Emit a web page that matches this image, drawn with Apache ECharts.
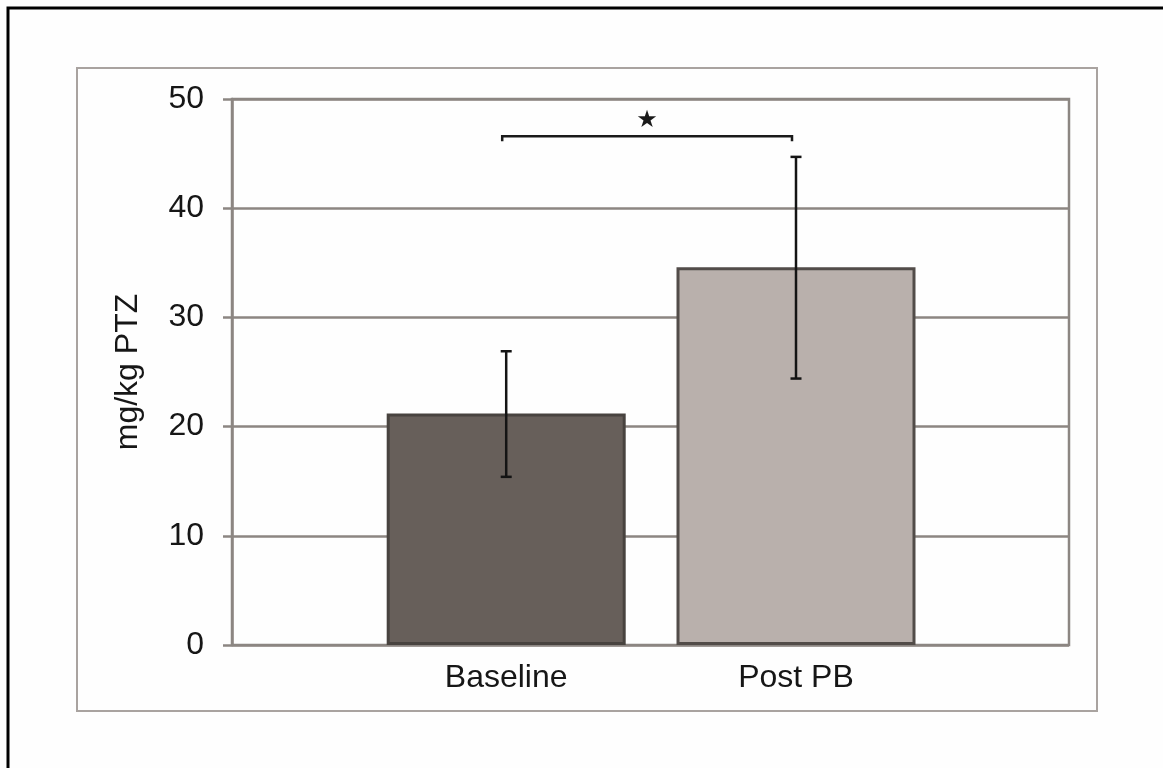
<!DOCTYPE html>
<html>
<head>
<meta charset="utf-8">
<script src="https://cdn.jsdelivr.net/npm/echarts@6/dist/echarts.min.js"></script>
<style>
html,body{margin:0;padding:0;background:#fefefe;}
#chart{width:1163px;height:768px;}
</style>
</head>
<body>
<div id="chart"></div>
<script>
// ---- data ----
const categories = ['Baseline', 'Post PB'];
const means = [21.2, 34.6];
const errLow = [15.4, 24.4];
const errHigh = [26.9, 44.7];
const yMin = 0, yMax = 50, yInterval = 10;
const yTitle = 'mg/kg PTZ';
const sigPair = [0, 1];
const sigLevel = 46.6;
const sigMark = '★';
const barColors = ['#675f5a', '#b9b0ac'];
const barBorders = ['#48433f', '#524c49'];

const chart = echarts.init(document.getElementById('chart'), null, {renderer: 'canvas'});
const font = 'Liberation Sans, Arial, sans-serif';
const gridColor = '#8c8682';

const option = {
  backgroundColor: '#fefefe',
  animation: false,
  graphic: [
    {type: 'rect', shape: {x: 8, y: 8, width: 2000, height: 2000},
     style: {fill: 'none', stroke: '#000', lineWidth: 3}, z: 0},
    {type: 'rect', shape: {x: 77, y: 68, width: 1020, height: 643},
     style: {fill: 'none', stroke: '#a9a3a0', lineWidth: 2}, z: 0}
  ],
  grid: [
    {left: 232, right: 94, top: 99, bottom: 123, show: true,
     borderColor: gridColor, borderWidth: 2.5, backgroundColor: 'transparent'},
    {left: 361.3, width: 579.6, top: 99, bottom: 123}
  ],
  xAxis: [
    {gridIndex: 0, type: 'value', min: 0, max: 1, show: false},
    {gridIndex: 1, type: 'category', data: categories,
     axisLine: {show: false}, axisTick: {show: false}, splitLine: {show: false},
     axisLabel: {fontSize: 32, fontFamily: font, color: '#161616', margin: 17}}
  ],
  yAxis: [
    {gridIndex: 0, type: 'value', min: yMin, max: yMax, interval: yInterval,
     name: yTitle, nameLocation: 'middle', nameGap: 88, nameRotate: 90,
     nameTextStyle: {fontSize: 32, fontFamily: font, color: '#161616'},
     axisLine: {show: true, lineStyle: {color: gridColor, width: 2.5}},
     axisTick: {show: true, inside: false, length: 9, lineStyle: {color: gridColor, width: 2.5}},
     splitLine: {show: true, lineStyle: {color: gridColor, width: 2.5}},
     axisLabel: {fontSize: 32, fontFamily: font, color: '#161616', margin: 28}},
    {gridIndex: 1, type: 'value', min: yMin, max: yMax, interval: yInterval, show: false}
  ],
  series: [
    {
      type: 'bar', xAxisIndex: 1, yAxisIndex: 1, barWidth: 239,
      data: means.map((v, i) => ({value: v, itemStyle: {color: barColors[i], borderColor: barBorders[i], borderWidth: 3}})),
      z: 2
    },
    {
      type: 'custom', xAxisIndex: 1, yAxisIndex: 1, z: 5,
      encode: {x: 0, y: [1, 2]},
      data: categories.map((c, i) => [i, errLow[i], errHigh[i]]),
      renderItem: function (params, api) {
        const x = api.value(0);
        const lo = api.coord([x, api.value(1)]);
        const hi = api.coord([x, api.value(2)]);
        const cw = 5.5;
        const st = {stroke: '#141414', lineWidth: 2.5};
        return {type: 'group', children: [
          {type: 'line', shape: {x1: lo[0], y1: lo[1], x2: hi[0], y2: hi[1]}, style: st},
          {type: 'line', shape: {x1: hi[0] - cw, y1: hi[1], x2: hi[0] + cw, y2: hi[1]}, style: st},
          {type: 'line', shape: {x1: lo[0] - cw, y1: lo[1], x2: lo[0] + cw, y2: lo[1]}, style: st}
        ]};
      }
    },
    {
      type: 'custom', xAxisIndex: 1, yAxisIndex: 1, z: 6,
      encode: {x: [0, 1], y: 2},
      data: [[sigPair[0], sigPair[1], sigLevel]],
      renderItem: function (params, api) {
        const a = api.coord([api.value(0), api.value(2)]);
        const b = api.coord([api.value(1), api.value(2)]);
        const dx = -4, drop = 5;
        const st = {stroke: '#1a1a1a', lineWidth: 2.5, fill: 'none'};
        return {type: 'group', children: [
          {type: 'polyline', shape: {points: [[a[0] + dx, a[1] + drop], [a[0] + dx, a[1]], [b[0] + dx, b[1]], [b[0] + dx, b[1] + drop]]}, style: st},
          {type: 'text', x: (a[0] + b[0]) / 2 + dx, y: a[1] - 15,
           style: {text: sigMark, fontSize: 24, fontFamily: 'DejaVu Sans', fill: '#1a1a1a', align: 'center', verticalAlign: 'middle'}}
        ]};
      }
    }
  ]
};
chart.setOption(option);
</script>
</body>
</html>
